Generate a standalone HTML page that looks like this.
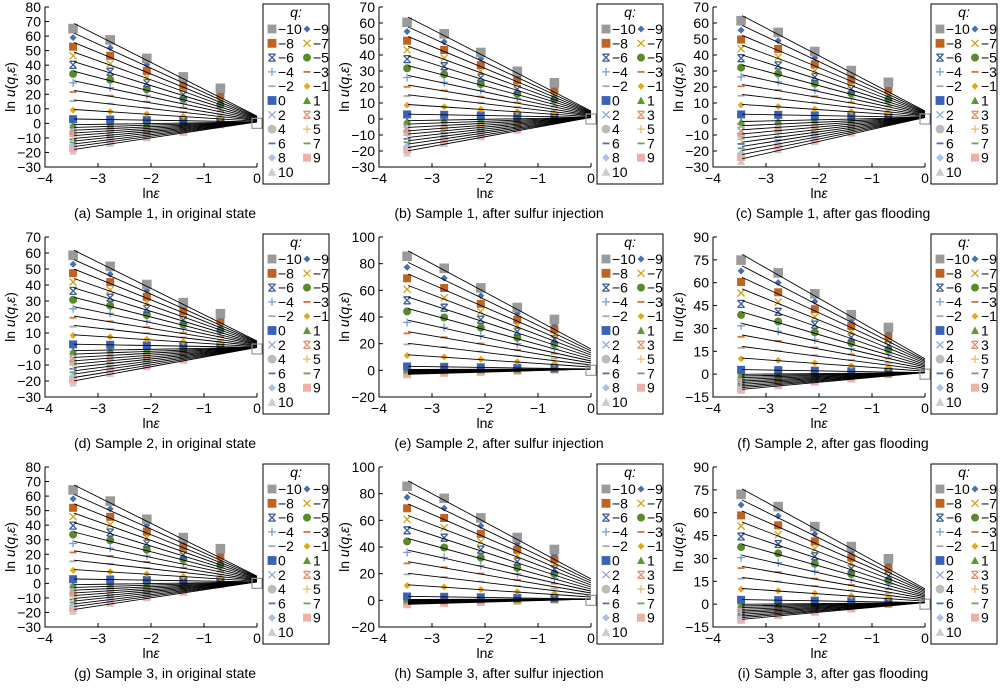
<!DOCTYPE html>
<html><head><meta charset="utf-8"><style>
body{margin:0;background:#fff}
svg{display:block;font-family:"Liberation Sans",sans-serif}
</style></head><body>
<svg id="s" width="1000" height="688" xmlns="http://www.w3.org/2000/svg"></svg>
<script>
const S=document.getElementById('s');let h='';
const P=[
 {c:'(a) Sample 1, in original state',lo:-30,hi:80,st:10,vn:69,vp:-18,k:0.4},
 {c:'(b) Sample 1, after sulfur injection',lo:-30,hi:70,st:10,vn:64,vp:-20,k:0.4},
 {c:'(c) Sample 1, after gas flooding',lo:-30,hi:70,st:10,vn:65,vp:-25,k:0.4},
 {c:'(d) Sample 2, in original state',lo:-30,hi:70,st:10,vn:62,vp:-20,k:0.4},
 {c:'(e) Sample 2, after sulfur injection',lo:-20,hi:100,st:20,vn:90,vp:-3,k:1.5},
 {c:'(f) Sample 2, after gas flooding',lo:-15,hi:90,st:15,vn:79,vp:-10,k:0.9},
 {c:'(g) Sample 3, in original state',lo:-30,hi:80,st:10,vn:68,vp:-18,k:0.4},
 {c:'(h) Sample 3, after sulfur injection',lo:-20,hi:100,st:20,vn:90,vp:-3,k:1.5},
 {c:'(i) Sample 3, after gas flooding',lo:-15,hi:90,st:15,vn:76,vp:-10,k:0.9}];
const M={'-10':['sq','#9a9a9a'],'-9':['di','#4a6fb0'],'-8':['sq','#c0631f'],'-7':['x','#d4a017'],'-6':['as','#3a5a9a'],'-5':['ci','#5a8a2a'],'-4':['pl','#7a9ad8'],'-3':['da','#e07030'],'-2':['da','#aaaaaa'],'-1':['di','#e6a817'],'0':['sq','#3a62b8'],'1':['tr','#5a9a30'],'2':['x','#8aa8e0'],'3':['as','#e89070'],'4':['ci','#bbbbbb'],'5':['pl','#f0b860'],'6':['da','#4a70c0'],'7':['da','#70a060'],'8':['di','#aac0e8'],'9':['sq','#f0b0a8'],'10':['tr','#cccccc']};
function mk(t,c,x,y,s){x=+x;y=+y;s=s||1;const r=v=>v.toFixed(1);switch(t){
case 'sq':return `<rect x="${r(x-4*s)}" y="${r(y-4*s)}" width="${8*s}" height="${8*s}" fill="${c}"/>`;
case 'di':return `<path d="M${r(x)} ${r(y-3.5*s)}L${r(x+3.5*s)} ${r(y)}L${r(x)} ${r(y+3.5*s)}L${r(x-3.5*s)} ${r(y)}Z" fill="${c}"/>`;
case 'ci':return `<circle cx="${r(x)}" cy="${r(y)}" r="${4*s}" fill="${c}"/>`;
case 'tr':return `<path d="M${r(x)} ${r(y-4*s)}L${r(x+4*s)} ${r(y+3.5*s)}L${r(x-4*s)} ${r(y+3.5*s)}Z" fill="${c}"/>`;
case 'x':return `<path d="M${r(x-3.5)} ${r(y-3.5)}L${r(x+3.5)} ${r(y+3.5)}M${r(x+3.5)} ${r(y-3.5)}L${r(x-3.5)} ${r(y+3.5)}" stroke="${c}" stroke-width="1.3"/>`;
case 'as':return `<path d="M${r(x-3.5)} ${r(y-3.5)}L${r(x+3.5)} ${r(y+3.5)}M${r(x+3.5)} ${r(y-3.5)}L${r(x-3.5)} ${r(y+3.5)}M${r(x-3.5)} ${r(y-3.5)}h7M${r(x-3.5)} ${r(y+3.5)}h7" stroke="${c}" stroke-width="1.3"/>`;
case 'pl':return `<path d="M${r(x-4)} ${r(y)}h8M${r(x)} ${r(y-4)}v8" stroke="${c}" stroke-width="1.3"/>`;
case 'da':return `<path d="M${r(x-3.5)} ${r(y)}h7" stroke="${c}" stroke-width="1.8"/>`;}}
P.forEach((p,i)=>{
 const ox=(i%3)*334, oy=Math.floor(i/3)*230;
 const x0=ox+45,x1=ox+257,yt=oy+7,yb=oy+167;
 const X=v=>x0+(v+4)/4*(x1-x0), Y=v=>yb-(v-p.lo)/(p.hi-p.lo)*(yb-yt);
 const xs=[-3.47,-2.77,-2.08,-1.39,-0.69];
 let lines='',mks='';
 for(let q=10;q>=-10;q--){
  let v,c;
  if(q<=0){v=(q==0?3:3+(p.vn-3)*(-q)/10); c=1+p.k*(-q);} else {v=1+(p.vp-1)*q/10; c=1;}
  const L=x=>c+(v-c)*(x/-3.47);
  lines+=`<path d="M${X(-3.45).toFixed(1)} ${Y(L(-3.45)).toFixed(1)}L${X(0).toFixed(1)} ${Y(c).toFixed(1)}"/>`;
  const m=M[q];
  xs.forEach((x,j)=>{const off=(j==0)?-0.06:(j==4?0.1:0.02);let y=L(x)+off*Math.abs(v-c);mks+=mk(m[0],m[1],X(x),Y(y),q==-10?1.2:1);});
 }
 h+=mks+`<g stroke="#000" stroke-width="0.9" fill="none">${lines}</g>`;
 h+=`<rect x="${X(0)-5}" y="${Y(0)-5}" width="10" height="10" fill="none" stroke="#999" stroke-width="1.2"/>`;
 h+=`<path d="M${x0} ${yt}V${yb}H${x1}" stroke="#000" fill="none" stroke-width="1"/>`;
 for(let v=p.lo;v<=p.hi+0.01;v+=p.st){const y=Y(v);h+=`<path d="M${x0} ${y}h4" stroke="#000"/><text x="${x0-4}" y="${y+5}" font-size="14" text-anchor="end">${v<0?'−'+(-v):v}</text>`;}
 for(let v=-4;v<=0;v++){const x=X(v);h+=`<path d="M${x} ${yb}v-4" stroke="#000"/><text x="${x}" y="${yb+16}" font-size="14" text-anchor="middle">${v<0?'−'+(-v):v}</text>`;}
 h+=`<text x="${(x0+x1)/2}" y="${oy+198}" font-size="14" text-anchor="middle">ln<tspan font-style="italic">ε</tspan></text>`;
 h+=`<text transform="translate(${ox+15} ${oy+87}) rotate(-90)" font-size="14" text-anchor="middle">ln <tspan font-style="italic">u</tspan>(<tspan font-style="italic">q</tspan>,<tspan font-style="italic">ε</tspan>)</text>`;
 h+=`<text x="${ox+165}" y="${oy+218}" font-size="14" text-anchor="middle">${p.c}</text>`;
 const lx=ox+263;
 h+=`<rect x="${lx}" y="${oy+4}" width="66" height="180" fill="#fff" stroke="#000" stroke-width="1"/>`;
 h+=`<text x="${lx+33}" y="${oy+17}" font-size="14" font-style="italic" text-anchor="middle">q:</text>`;
 for(let r=0;r<11;r++){
  const y=oy+29+r*14.3, q1=-10+2*r;
  h+=mk(M[q1][0],M[q1][1],lx+9,y,1.1)+`<text x="${lx+15}" y="${y+5}" font-size="14">${q1<0?'−'+(-q1):q1}</text>`;
  if(r<10){const q2=q1+1;h+=mk(M[q2][0],M[q2][1],lx+44,y,1)+`<text x="${lx+50}" y="${y+5}" font-size="14">${q2<0?'−'+(-q2):q2}</text>`;}
 }
});
S.innerHTML=h;
</script>
</body></html>
